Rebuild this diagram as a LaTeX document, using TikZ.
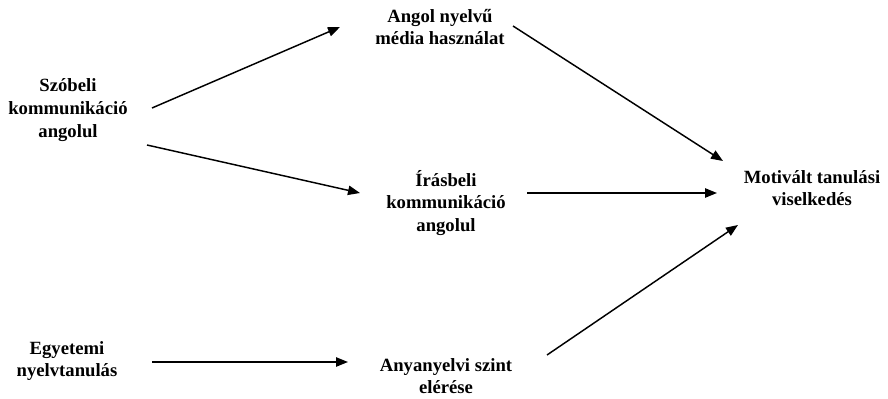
\documentclass[tikz,border=0pt]{standalone}
\usepackage{fontspec}
\setmainfont{Liberation Serif}
\usetikzlibrary{arrows.meta}

\begin{document}
\begin{tikzpicture}[x=0.75pt,y=0.75pt]
\tikzstyle{every node}+=[inner sep=0pt, align=center, font=\fontsize{14}{17}\selectfont\bfseries]
\tikzstyle{arr}=[black, line width=1.1pt, -{Triangle[length=9pt,width=7pt]}]
\useasboundingbox (0,0) rectangle (888,-399);
\node (szobeli) at (68,-110) {Szóbeli\\kommunikáció\\angolul};
\node (angol) at (440,-27) {Angol nyelvű\\média használat};
\node (irasbeli) at (446,-203) {Írásbeli\\kommunikáció\\angolul};
\node (motivalt) at (812,-188) {Motivált tanulási\\viselkedés};
\node (egyetemi) at (67,-361) {Egyetemi\\nyelvtanulás};
\node (anyanyelvi) at (446,-376) {Anyanyelvi szint\\elérése};
\draw [arr] ([shift={(84,2)}]szobeli.center) -- ([shift={(-100,0)}]angol.center);
\draw [arr] ([shift={(79,-35)}]szobeli.center) -- ([shift={(-86,10)}]irasbeli.center);
\draw [arr] ([shift={(73,1)}]angol.center) -- ([shift={(-89,27)}]motivalt.center);
\draw [arr] ([shift={(81,10)}]irasbeli.center) -- ([shift={(-95,-5)}]motivalt.center);
\draw [arr] ([shift={(101,21)}]anyanyelvi.center) -- ([shift={(-74,-37)}]motivalt.center);
\draw [arr] ([shift={(85,-1)}]egyetemi.center) -- ([shift={(-98,14)}]anyanyelvi.center);
\end{tikzpicture}
\end{document}
